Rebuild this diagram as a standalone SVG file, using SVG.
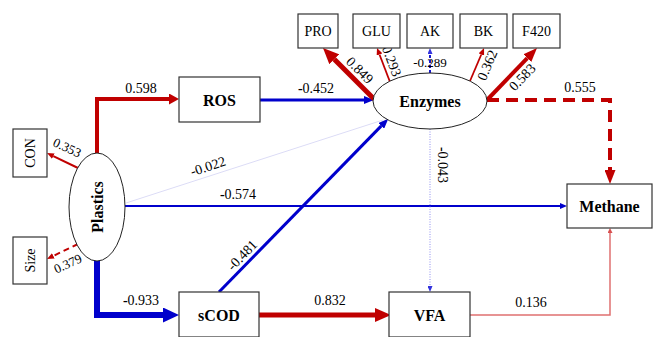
<svg xmlns="http://www.w3.org/2000/svg" width="653" height="337" viewBox="0 0 653 337" font-family="'Liberation Serif', 'DejaVu Serif', serif">
<style>
text{font-family:'Liberation Serif','DejaVu Serif',serif;fill:#000}
.lbl{font-size:14px;text-anchor:middle}
.sm{font-size:13px;text-anchor:middle}
.node{font-size:16px;font-weight:bold;text-anchor:middle}
.box{fill:#fff;stroke:#333;stroke-width:1.2}
.ell{fill:#fff;stroke:#222;stroke-width:1}
.r{stroke:#c00000;fill:none}
.b{stroke:#0000cc;fill:none}
.bm{font-weight:bold}
</style>
<defs>
<marker id="rXL" markerUnits="userSpaceOnUse" markerWidth="16" markerHeight="14" viewBox="0 0 16 14" refX="0" refY="7" orient="auto"><path d="M0,0L16,7L0,14z" fill="#c00000"/></marker>
<marker id="rL" markerUnits="userSpaceOnUse" markerWidth="14" markerHeight="11" viewBox="0 0 14 11" refX="0" refY="5.5" orient="auto"><path d="M0,0L14,5.5L0,11z" fill="#c00000"/></marker>
<marker id="rM" markerUnits="userSpaceOnUse" markerWidth="10" markerHeight="11" viewBox="0 0 10 11" refX="0" refY="5.5" orient="auto"><path d="M0,0L10,5.5L0,11z" fill="#c00000"/></marker>
<marker id="rS" markerUnits="userSpaceOnUse" markerWidth="7" markerHeight="6" viewBox="0 0 7 6" refX="0" refY="3" orient="auto"><path d="M0,0L7,3L0,6z" fill="#c00000"/></marker>
<marker id="rT" markerUnits="userSpaceOnUse" markerWidth="5" markerHeight="5" viewBox="0 0 5 5" refX="0" refY="2.5" orient="auto"><path d="M0,0L5,2.5L0,5z" fill="#d85050"/></marker>
<marker id="bXL" markerUnits="userSpaceOnUse" markerWidth="16" markerHeight="15" viewBox="0 0 16 15" refX="0" refY="7.5" orient="auto"><path d="M0,0L16,7.5L0,15z" fill="#0000cc"/></marker>
<marker id="bM" markerUnits="userSpaceOnUse" markerWidth="10" markerHeight="8" viewBox="0 0 10 8" refX="0" refY="4" orient="auto"><path d="M0,0L10,4L0,8z" fill="#0000cc"/></marker>
<marker id="bS" markerUnits="userSpaceOnUse" markerWidth="7" markerHeight="6" viewBox="0 0 7 6" refX="0" refY="3" orient="auto"><path d="M0,0L7,3L0,6z" fill="#0000cc"/></marker>
<marker id="bT" markerUnits="userSpaceOnUse" markerWidth="6" markerHeight="5" viewBox="0 0 6 5" refX="0" refY="2.5" orient="auto"><path d="M0,0L6,2.5L0,5z" fill="#3333dd"/></marker>
</defs>

<g id="connectors">
<path class="r" d="M97,153V99H169" stroke-width="4" marker-end="url(#rM)"/>
<path class="b" d="M260,100H364" stroke-width="3" marker-end="url(#bM)"/>
<path class="r" d="M374,99L334.3,59.3" stroke-width="5" marker-end="url(#rXL)"/>
<path class="r" d="M390,82L379.5,54.5" stroke-width="1.8" marker-end="url(#rS)"/>
<path class="b" d="M430,73V54" stroke-width="1.8" stroke-dasharray="3,2" marker-end="url(#bT)"/>
<path class="r" d="M470,81L481.3,54.5" stroke-width="1.8" marker-end="url(#rS)"/>
<path class="r" d="M487,100L527.3,58.1" stroke-width="4" marker-end="url(#rL)"/>
<path class="r" d="M487,100H610V170" stroke-width="4" stroke-dasharray="12,7" marker-end="url(#rL)"/>
<path class="b" d="M125,206H560" stroke-width="2" marker-end="url(#bS)"/>
<path d="M126,203L383,120" stroke="#dcdcf6" stroke-width="1" fill="none"/>
<path class="b" d="M97,261V315H163" stroke-width="6" marker-end="url(#bXL)"/>
<path class="r" d="M259,315H375" stroke-width="5" marker-end="url(#rXL)"/>
<path class="b" d="M219,292L381.3,125.9" stroke-width="3" marker-end="url(#bM)"/>
<path d="M430,129V286" stroke="#8c8cf0" stroke-width="1" stroke-dasharray="1,1.5" fill="none" marker-end="url(#bT)"/>
<path d="M470,315H610V233" stroke="#e07070" stroke-width="1.5" fill="none" marker-end="url(#rT)"/>
<path class="r" d="M78,168L53.3,156.1" stroke-width="2" marker-end="url(#rS)"/>
<path class="r" d="M78,244L53.3,255.9" stroke-width="2" stroke-dasharray="6,4" marker-end="url(#rS)"/>

<text class="lbl" x="141" y="93">0.598</text>
<text class="lbl" x="316" y="93"><tspan class="bm">-</tspan>0.452</text>
<text class="lbl" transform="translate(360,70) rotate(45)" y="5">0.849</text>
<text class="lbl" transform="translate(392,61) rotate(69)" y="5">0.293</text>
<text class="sm" x="430" y="67">-0.289</text>
<text class="lbl" transform="translate(487,65) rotate(-67)" y="5">0.362</text>
<text class="lbl" transform="translate(522,77) rotate(-46)" y="5">0.583</text>
<text class="lbl" x="580" y="92">0.555</text>
<text class="lbl" transform="translate(208,166) rotate(-18)" y="5">-0.022</text>
<text class="lbl" x="238" y="199"><tspan class="bm">-</tspan>0.574</text>
<text class="lbl" transform="translate(443,165) rotate(90)" y="5"><tspan class="bm">-</tspan>0.043</text>
<text class="lbl" transform="translate(242,255) rotate(-46)" y="5">-0.481</text>
<text class="lbl" x="141" y="305"><tspan class="bm">-</tspan>0.933</text>
<text class="lbl" x="330" y="305">0.832</text>
<text class="lbl" x="531" y="307">0.136</text>
<text class="sm" transform="translate(67,148) rotate(25)" y="4">0.353</text>
<text class="sm" transform="translate(68,264) rotate(-25)" y="4">0.379</text>
</g>

<g id="Plastics">
<ellipse class="ell" cx="97" cy="207" rx="28" ry="54"/>
<text class="node" transform="translate(97,207) rotate(-90)" y="6">Plastics</text>
</g>
<g id="CON">
<rect class="box" x="13" y="129" width="34" height="48"/>
<text class="lbl" transform="translate(30,153) rotate(-90)" y="5">CON</text>
</g>
<g id="Size">
<rect class="box" x="13" y="237" width="34" height="47"/>
<text class="lbl" transform="translate(30,260.5) rotate(-90)" y="5">Size</text>
</g>
<g id="ROS">
<rect class="box" x="179" y="77" width="81" height="45"/>
<text class="node" x="219.5" y="105.5">ROS</text>
</g>
<g id="Enzymes">
<ellipse class="ell" cx="430" cy="101" rx="57" ry="28"/>
<text class="node" x="430" y="106.5">Enzymes</text>
</g>
<g id="PRO">
<rect class="box" x="298" y="14" width="40" height="34"/>
<text class="lbl" x="318" y="36">PRO</text>
</g>
<g id="GLU">
<rect class="box" x="353" y="14" width="47" height="34"/>
<text class="lbl" x="376.5" y="36">GLU</text>
</g>
<g id="AK">
<rect class="box" x="407" y="14" width="46" height="34"/>
<text class="lbl" x="430" y="36">AK</text>
</g>
<g id="BK">
<rect class="box" x="460" y="14" width="47" height="34"/>
<text class="lbl" x="483.5" y="36">BK</text>
</g>
<g id="F420">
<rect class="box" x="513" y="14" width="47" height="34"/>
<text class="lbl" x="536.5" y="36">F420</text>
</g>
<g id="Methane">
<rect class="box" x="567" y="184" width="85" height="44"/>
<text class="node" x="609.5" y="211.5">Methane</text>
</g>
<g id="sCOD">
<rect class="box" x="179" y="292" width="80" height="45"/>
<text class="node" x="219" y="321">sCOD</text>
</g>
<g id="VFA">
<rect class="box" x="389" y="292" width="81" height="45"/>
<text class="node" x="429.5" y="321">VFA</text>
</g>
</svg>
